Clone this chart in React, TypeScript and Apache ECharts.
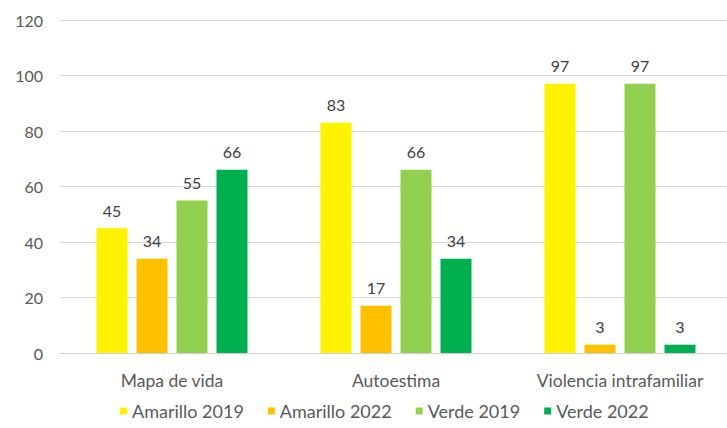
import React, { useEffect, useRef } from "react";
import * as echarts from "echarts";

const categories = ["Mapa de vida", "Autoestima", "Violencia intrafamiliar"];
const seriesNames = ["Amarillo 2019", "Amarillo 2022", "Verde 2019", "Verde 2022"];
const amarillo2019 = [45, 83, 97];
const amarillo2022 = [34, 17, 3];
const verde2019 = [55, 66, 97];
const verde2022 = [66, 34, 3];
const colors = ["#FFF200", "#FFC000", "#92D050", "#00B050"];

export default function App() {
  const ref = useRef<HTMLDivElement>(null);
  useEffect(() => {
    const chart = echarts.init(ref.current!, undefined, { renderer: "svg" });
    const font = "Lato, 'Open Sans', sans-serif";
    const data = [amarillo2019, amarillo2022, verde2019, verde2022];
    chart.setOption({
      animation: false,
      textStyle: { fontFamily: font },
      grid: { left: 60, width: 672, top: 20, height: 333, containLabel: false },
      legend: {
        top: 397,
        left: 115,
        itemWidth: 7,
        itemHeight: 7,
        itemGap: 24,
        icon: "rect",
        textStyle: { fontSize: 18, color: "#595959", fontFamily: font },
        data: seriesNames,
      },
      xAxis: {
        type: "category",
        data: categories,
        axisTick: { show: false },
        axisLine: { lineStyle: { color: "#D0D0D0", width: 1 } },
        axisLabel: { fontSize: 17.5, color: "#595959", margin: 18, fontFamily: font },
      },
      yAxis: {
        type: "value",
        min: 0,
        max: 120,
        interval: 20,
        axisLabel: { fontSize: 16, color: "#595959", margin: 17, fontFamily: font },
        splitLine: { lineStyle: { color: "#D9D9D9", width: 1 } },
        axisLine: { show: false },
      },
      series: seriesNames.map((name, i) => ({
        name,
        type: "bar",
        data: data[i],
        barWidth: 31,
        barGap: "29%",
        itemStyle: { color: colors[i] },
        label: {
          show: true,
          position: "top",
          distance: 10,
          fontSize: 16,
          color: "#404040",
          fontFamily: font,
        },
      })),
    });
    return () => chart.dispose();
  }, []);
  return (
    <div
      style={{ position: "absolute", left: 0, top: 0, width: 727, height: 428, overflow: "hidden", background: "#fff" }}
    >
      <div ref={ref} style={{ width: 740, height: 428 }} />
    </div>
  );
}
